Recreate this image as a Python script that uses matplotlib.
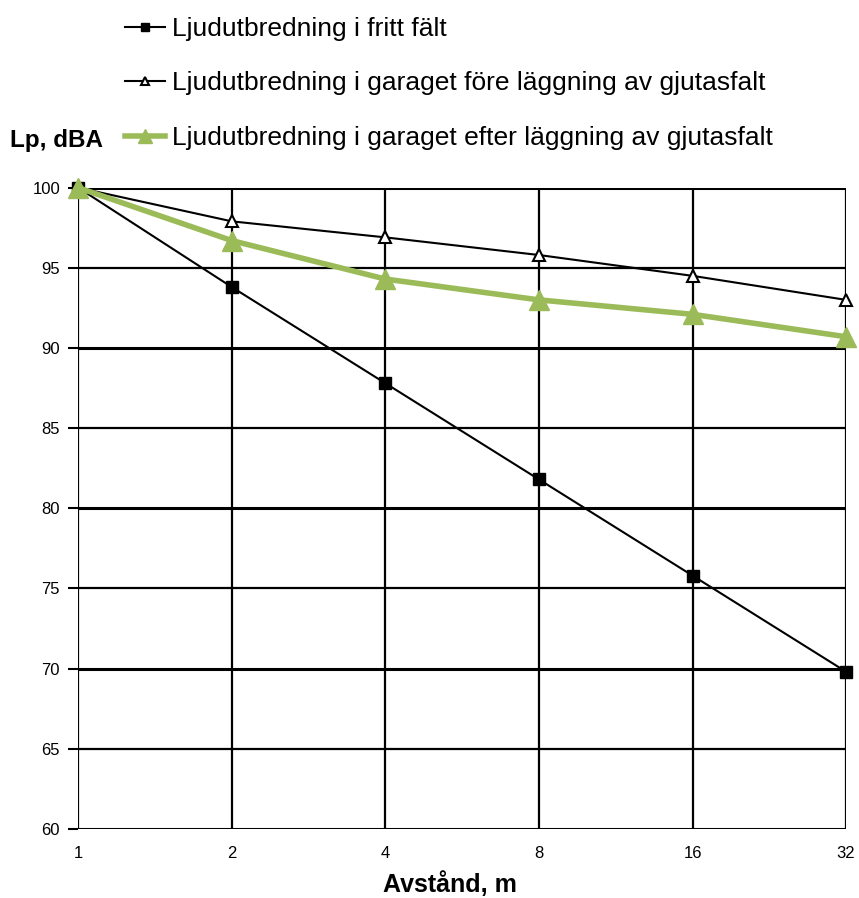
import matplotlib
matplotlib.use("Agg")
import matplotlib.pyplot as plt
from matplotlib.ticker import FixedLocator, FixedFormatter, NullLocator

plt.rcParams['font.family'] = ['Liberation Sans Narrow', 'Liberation Sans', 'DejaVu Sans']

# data
avstand = [1, 2, 4, 8, 16, 32]
fritt_falt = [100, 93.8, 87.8, 81.8, 75.8, 69.8]
fore_gjutasfalt = [100, 97.9, 96.9, 95.8, 94.5, 93.0]
efter_gjutasfalt = [100, 96.7, 94.3, 93.0, 92.1, 90.7]
x_ticks = ['1', '2', '4', '8', '16', '32']
y_ticks = [60, 65, 70, 75, 80, 85, 90, 95, 100]

fig = plt.figure(figsize=(8.59, 8.98), dpi=100)
ax = fig.add_axes([0.091, 0.077, 0.894, 0.714])

ax.set_xscale('log', base=2)
ax.set_xlim(1, 32)
ax.set_ylim(60, 100)

# rutnät
for yv in y_ticks:
    lw = 2.2 if yv % 10 == 0 else 1.6
    ax.axhline(yv, color='black', lw=lw, zorder=1)
for xv in avstand:
    ax.axvline(xv, color='black', lw=1.6, zorder=1)

l1, = ax.plot(avstand, fritt_falt, color='black', lw=1.5, marker='s', ms=8,
              mfc='black', mec='black', clip_on=False, zorder=3,
              label='Ljudutbredning i fritt fält')
l2, = ax.plot(avstand, fore_gjutasfalt, color='black', lw=1.5, marker='^', ms=8,
              mfc='white', mec='black', mew=1.5, clip_on=False, zorder=3,
              label='Ljudutbredning i garaget före läggning av gjutasfalt')
l3, = ax.plot(avstand, efter_gjutasfalt, color='#9BBB59', lw=4, marker='^', ms=15,
              mfc='#9BBB59', mec='#9BBB59', clip_on=False, zorder=4,
              label='Ljudutbredning i garaget efter läggning av gjutasfalt')

for s in ax.spines.values():
    s.set_visible(False)

ax.xaxis.set_major_locator(FixedLocator(avstand))
ax.xaxis.set_major_formatter(FixedFormatter(x_ticks))
ax.xaxis.set_minor_locator(NullLocator())
ax.set_yticks(y_ticks)
ax.tick_params(axis='x', length=0, pad=12, labelsize=12)
ax.tick_params(axis='y', length=7, width=1.5, pad=6, labelsize=12)

ax.set_xlabel('Avstånd, m', fontsize=18, fontweight='bold')
ax.xaxis.set_label_coords(0.484, -0.066)

fig.text(0.012, 0.843, 'Lp, dBA', fontsize=17.5, fontweight='bold', va='center')

fig.legend(handles=[l1, l2, l3], loc='upper left', bbox_to_anchor=(0.146, 0.981),
           frameon=False, fontsize=19, labelspacing=1.15, handlelength=1.5,
           handletextpad=0.25, markerscale=0.7, borderpad=0, borderaxespad=0)

fig.savefig('out.png', dpi=100)
